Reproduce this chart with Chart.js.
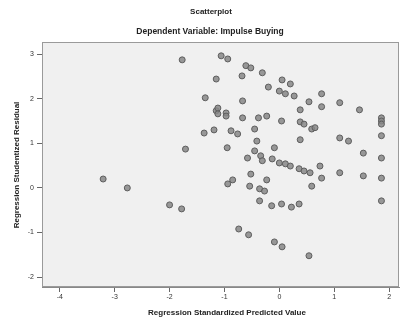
<!DOCTYPE html>
<html>
<head>
<meta charset="utf-8">
<script src="https://cdn.jsdelivr.net/npm/chart.js@4.4.0/dist/chart.umd.min.js"></script>
<style>
  body { margin: 0; background: #fff; }
  canvas { display: block; }
</style>
</head>
<body>
<canvas id="scatter" width="404" height="322"></canvas>
<script>
// data
const predicted = [
  -1.77, -1.15, -1.35, -1.15, -1.12, -1.12, -0.97, -0.97, -1.37, -1.19,
  -1.71, -3.21, -2.77, -2.00, -1.78, -1.06, -0.94, -0.61, -0.52, -0.68,
  -0.31, -0.20, 0.05, 0.20, 0.00, 0.11, 0.27, 0.77, -0.67, 0.54,
  0.77, 1.10, 1.46, 0.38, 1.86, 1.86, 1.86, -0.67, -0.38, -0.23,
  0.04, 0.38, 0.45, 0.59, 0.65, -0.88, -0.76, -0.45, -0.41, 0.38,
  1.10, 1.26, 1.86, -0.95, -0.09, 1.53, -0.58, -0.45, -0.34, 1.86,
  -0.31, -0.13, 0.00, 0.11, 0.20, 0.36, 0.45, 0.56, 0.74, 0.77,
  1.10, 1.53, 1.86, 1.86, 0.59, -0.52, -0.94, -0.85, -0.54, -0.23,
  -0.36, -0.27, -0.36, -0.14, 0.04, 0.22, 0.36, -0.74, -0.56, -0.09,
  0.05, 0.54
];
const residual = [
  2.87, 2.44, 2.02, 1.73, 1.79, 1.66, 1.68, 1.61, 1.23, 1.30,
  0.87, 0.20, 0.00, -0.38, -0.47, 2.96, 2.89, 2.74, 2.69, 2.51,
  2.58, 2.26, 2.42, 2.33, 2.17, 2.11, 2.06, 2.11, 1.95, 1.93,
  1.82, 1.91, 1.75, 1.75, 1.57, 1.50, 1.43, 1.57, 1.57, 1.61,
  1.50, 1.48, 1.43, 1.32, 1.35, 1.28, 1.21, 1.32, 1.05, 1.08,
  1.12, 1.05, 1.17, 0.90, 0.90, 0.78, 0.67, 0.83, 0.72, 0.67,
  0.61, 0.65, 0.56, 0.54, 0.49, 0.43, 0.38, 0.34, 0.49, 0.22,
  0.34, 0.27, 0.22, -0.29, 0.04, 0.31, 0.09, 0.18, 0.04, 0.18,
  -0.02, -0.07, -0.29, -0.40, -0.36, -0.43, -0.36, -0.92, -1.05, -1.21,
  -1.32, -1.52
];
const xTicks = [-4, -3, -2, -1, 0, 1, 2];
const yTicks = [-2, -1, 0, 1, 2, 3];

const points = predicted.map((x, i) => ({ x: x, y: residual[i] }));

const tickFont = { family: 'Liberation Sans, Arial', size: 7 };

// grey plot background, frame and the hand-placed titles
const frame = {
  id: 'frame',
  beforeDatasetsDraw(chart) {
    const a = chart.chartArea;
    const c = chart.ctx;
    c.save();
    c.fillStyle = '#f0f0f0';
    c.fillRect(a.left, a.top, a.right - a.left, a.bottom - a.top);
    c.strokeStyle = '#9a9a9a';
    c.lineWidth = 1;
    c.strokeRect(a.left + 0.5, a.top + 0.5, a.right - a.left - 1, a.bottom - a.top - 1);
    c.restore();
  },
  afterDraw(chart) {
    const c = chart.ctx;
    c.save();
    c.fillStyle = '#222';
    c.textAlign = 'center';
    c.textBaseline = 'middle';
    c.font = 'bold 8px Liberation Sans, Arial';
    c.fillText('Scatterplot', 211, 12);
    c.font = 'bold 8.5px Liberation Sans, Arial';
    c.fillText('Dependent Variable: Impulse Buying', 210, 32);
    c.font = 'bold 8px Liberation Sans, Arial';
    c.fillText('Regression Standardized Predicted Value', 227, 313);
    c.translate(17, 165);
    c.rotate(-Math.PI / 2);
    c.fillText('Regression Studentized Residual', 0, 0);
    c.restore();
  }
};

new Chart(document.getElementById('scatter').getContext('2d'), {
  type: 'scatter',
  data: {
    datasets: [{
      data: points,
      backgroundColor: 'rgba(135,135,135,0.85)',
      borderColor: '#5e5e5e',
      borderWidth: 1,
      pointRadius: 3
    }]
  },
  options: {
    responsive: false,
    animation: false,
    layout: { padding: { top: 42, right: 1, left: 0, bottom: 0 } },
    plugins: {
      legend: { display: false },
      tooltip: { enabled: false }
    },
    scales: {
      x: {
        type: 'linear',
        min: -4.324,
        max: 2.18,
        afterFit(scale) { scale.height = 35; },
        afterBuildTicks(scale) { scale.ticks = xTicks.map(v => ({ value: v })); },
        grid: { drawOnChartArea: false, drawTicks: true, tickLength: 5, color: '#666' },
        border: { display: true, color: '#888' },
        ticks: { font: tickFont, color: '#333', padding: 1, maxRotation: 0 }
      },
      y: {
        type: 'linear',
        min: -2.22,
        max: 3.27,
        afterFit(scale) { scale.width = 42; },
        afterBuildTicks(scale) { scale.ticks = yTicks.map(v => ({ value: v })); },
        grid: { drawOnChartArea: false, drawTicks: true, tickLength: 5, color: '#666' },
        border: { display: true, color: '#888' },
        ticks: { font: tickFont, color: '#333', padding: 3 }
      }
    }
  },
  plugins: [frame]
});
</script>
</body>
</html>
